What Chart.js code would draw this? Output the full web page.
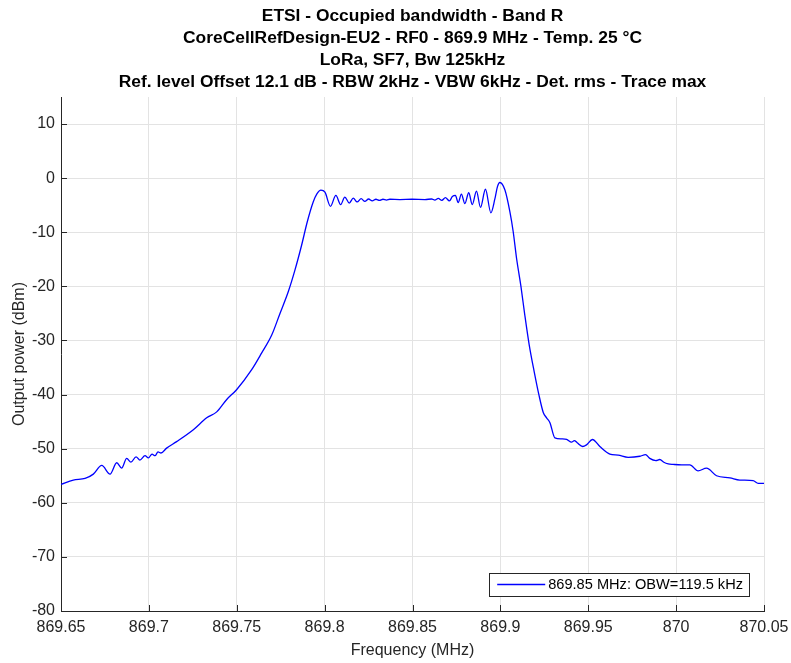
<!DOCTYPE html>
<html>
<head>
<meta charset="utf-8">
<script src="https://cdn.jsdelivr.net/npm/chart.js@4.4.1/dist/chart.umd.min.js"></script>
<style>
  html, body { margin: 0; padding: 0; background: #fff; }
  canvas { display: block; }
</style>
</head>
<body>
<canvas id="obwChart" width="791" height="663"></canvas>
<script>
// Spectrum trace (max hold), frequency in MHz, level in dBm
const freqMHz = [
  869.65, 869.657, 869.6637, 869.6684, 869.6732, 869.6779, 869.6817, 869.6845,
  869.6874, 869.6898, 869.6927, 869.6949, 869.6978, 869.6997, 869.7018, 869.7035,
  869.7052, 869.7069, 869.7101, 869.7158, 869.7253, 869.7329, 869.7386, 869.7443,
  869.7499, 869.7585, 869.7642, 869.7699, 869.7746, 869.7793, 869.7831, 869.7869,
  869.7901, 869.7935, 869.7956, 869.7979, 869.8002, 869.8033, 869.8064, 869.8091,
  869.8115, 869.814, 869.8163, 869.8185, 869.8208, 869.8229, 869.825, 869.8271,
  869.8292, 869.8312, 869.8332, 869.8352, 869.8371, 869.8428, 869.8497, 869.8571,
  869.8609, 869.8627, 869.8647, 869.8667, 869.8687, 869.871, 869.8727, 869.8744,
  869.876, 869.8778, 869.8798, 869.882, 869.884, 869.8864, 869.8887, 869.8915,
  869.8946, 869.8969, 869.8983, 869.8997, 869.9026, 869.9054, 869.9073, 869.9092,
  869.9117, 869.9139, 869.9164, 869.9192, 869.9219, 869.9244, 869.9263, 869.9282,
  869.931, 869.9348, 869.9377, 869.9405, 869.9421, 869.9437, 869.9468, 869.949,
  869.9524, 869.9566, 869.9623, 869.967, 869.9727, 869.9794, 869.9826, 869.985,
  869.9885, 869.9907, 869.993, 869.9955, 869.9983, 870.0031, 870.0078, 870.0125,
  870.0173, 870.023, 870.0306, 870.0362, 870.0438, 870.0467, 870.05
];
const powerDbm = [
  -56.6, -55.8, -55.5, -54.7, -53.1, -54.7, -52.6, -53.6,
  -51.8, -52.5, -51.5, -52.1, -51.3, -51.7, -51.0, -51.3,
  -50.6, -50.8, -49.9, -48.7, -46.5, -44.3, -43.2, -40.9,
  -39.1, -35.4, -32.3, -29.0, -25.0, -21.0, -17.0, -12.4,
  -8.1, -4.4, -2.9, -2.2, -2.6, -5.2, -3.2, -4.9,
  -3.5, -4.6, -3.7, -4.4, -3.8, -4.3, -3.85, -4.2,
  -3.9, -4.1, -3.9, -4.05, -3.9, -3.95, -3.9, -3.95,
  -3.85, -4.05, -3.75, -4.1, -3.6, -4.2, -3.4, -3.2,
  -4.5, -2.95, -4.7, -2.7, -4.9, -2.4, -5.4, -2.05,
  -6.4, -3.8, -1.6, -0.8, -2.2, -6.2, -9.9, -14.8,
  -20.0, -25.3, -30.8, -35.7, -40.0, -43.3, -44.3, -45.2,
  -48.0, -48.2, -48.3, -48.8, -48.5, -48.9, -49.6, -49.3,
  -48.3, -49.6, -51.0, -51.2, -51.6, -51.4, -51.1, -51.8,
  -52.2, -52.0, -52.5, -52.8, -52.9, -53.0, -53.0, -54.1,
  -53.6, -55.0, -55.4, -55.8, -55.9, -56.4, -56.4
];

const xTicks = [869.65, 869.7, 869.75, 869.8, 869.85, 869.9, 869.95, 870, 870.05];
const yTicks = [-80, -70, -60, -50, -40, -30, -20, -10, 0, 10];

const titleLines = [
  'ETSI - Occupied bandwidth - Band R',
  'CoreCellRefDesign-EU2 - RF0 - 869.9 MHz - Temp. 25 °C',
  'LoRa, SF7, Bw 125kHz',
  'Ref. level Offset 12.1 dB - RBW 2kHz - VBW 6kHz - Det. rms - Trace max'
];
const traceLabel = '869.85 MHz: OBW=119.5 kHz';

const FONT = '"Liberation Sans", Arial, Helvetica, sans-serif';
const AXIS_COLOR = '#262626';

// four-line heading centred over the plot area
const headingPlugin = {
  id: 'heading',
  afterDraw(chart) {
    const { ctx, chartArea } = chart;
    const cx = (chartArea.left + chartArea.right) / 2;
    ctx.save();
    ctx.fillStyle = '#000';
    ctx.font = 'bold 17.4px ' + FONT;
    ctx.textAlign = 'center';
    ctx.textBaseline = 'middle';
    titleLines.forEach((line, i) => ctx.fillText(line, cx, 16 + i * 22));
    ctx.restore();
  }
};

// tick marks pointing into the axes
const innerTicksPlugin = {
  id: 'innerTicks',
  afterDatasetsDraw(chart) {
    const { ctx, chartArea, scales } = chart;
    ctx.save();
    ctx.strokeStyle = AXIS_COLOR;
    ctx.lineWidth = 1;
    ctx.beginPath();
    scales.x.ticks.forEach(t => {
      const px = Math.round(scales.x.getPixelForValue(t.value)) + 0.5;
      ctx.moveTo(px, chartArea.bottom);
      ctx.lineTo(px, chartArea.bottom - 6);
    });
    scales.y.ticks.forEach(t => {
      const py = Math.round(scales.y.getPixelForValue(t.value)) + 0.5;
      ctx.moveTo(chartArea.left, py);
      ctx.lineTo(chartArea.left + 6, py);
    });
    ctx.stroke();
    ctx.restore();
  }
};

// boxed legend in the lower right corner of the plot
const cornerLegendPlugin = {
  id: 'cornerLegend',
  afterDatasetsDraw(chart) {
    const { ctx, chartArea } = chart;
    const ds = chart.data.datasets[0];
    ctx.save();
    ctx.font = '14.6px ' + FONT;
    const textW = ctx.measureText(ds.label).width;
    const h = 23;
    const w = 8 + 48 + 3 + textW + 6;
    const right = chartArea.right - 15;
    const bottom = chartArea.bottom - 15;
    const left = right - w;
    const top = bottom - h;
    ctx.fillStyle = '#fff';
    ctx.fillRect(left, top, w, h);
    ctx.strokeStyle = AXIS_COLOR;
    ctx.lineWidth = 1;
    ctx.strokeRect(Math.round(left) + 0.5, Math.round(top) + 0.5, Math.round(w), h);
    ctx.strokeStyle = ds.borderColor;
    ctx.lineWidth = ds.borderWidth;
    ctx.beginPath();
    ctx.moveTo(left + 8, top + h / 2);
    ctx.lineTo(left + 56, top + h / 2);
    ctx.stroke();
    ctx.fillStyle = '#000';
    ctx.textBaseline = 'middle';
    ctx.fillText(ds.label, left + 59, top + h / 2 + 0.5);
    ctx.restore();
  }
};

new Chart(document.getElementById('obwChart'), {
  type: 'line',
  data: {
    datasets: [{
      label: traceLabel,
      data: freqMHz.map((f, i) => ({ x: f, y: powerDbm[i] })),
      borderColor: '#0000ff',
      borderWidth: 1.3,
      pointRadius: 0,
      cubicInterpolationMode: 'monotone',
      fill: false
    }]
  },
  options: {
    responsive: false,
    animation: false,
    layout: { padding: { top: 97, right: 27, bottom: 0, left: 0 } },
    plugins: {
      legend: { display: false },
      title: { display: false },
      tooltip: { enabled: false }
    },
    scales: {
      x: {
        type: 'linear',
        min: 869.65,
        max: 870.05,
        afterBuildTicks: s => { s.ticks = xTicks.map(v => ({ value: v })); },
        afterFit: s => { s.height = 52; s.paddingLeft = 0; s.paddingRight = 0; },
        ticks: {
          callback: v => String(v),
          color: AXIS_COLOR,
          font: { family: FONT, size: 16 },
          padding: 7,
          maxRotation: 0,
          autoSkip: false
        },
        grid: { color: '#e3e3e3', drawTicks: false },
        border: { color: AXIS_COLOR, width: 1 },
        title: {
          display: true,
          text: 'Frequency (MHz)',
          color: AXIS_COLOR,
          font: { family: FONT, size: 16 },
          padding: { top: 0, bottom: 2.4 }
        }
      },
      y: {
        type: 'linear',
        min: -80,
        max: 15,
        afterBuildTicks: s => { s.ticks = yTicks.map(v => ({ value: v })); },
        afterFit: s => { s.width = 61; s.paddingTop = 0; s.paddingBottom = 0; },
        ticks: {
          callback: v => String(v),
          color: AXIS_COLOR,
          font: { family: FONT, size: 16 },
          padding: 6
        },
        grid: { color: '#e3e3e3', drawTicks: false },
        border: { color: AXIS_COLOR, width: 1 },
        title: {
          display: true,
          text: 'Output power (dBm)',
          color: AXIS_COLOR,
          font: { family: FONT, size: 16 },
          padding: { top: 10, bottom: 0 }
        }
      }
    }
  },
  plugins: [headingPlugin, innerTicksPlugin, cornerLegendPlugin]
});
</script>
</body>
</html>
